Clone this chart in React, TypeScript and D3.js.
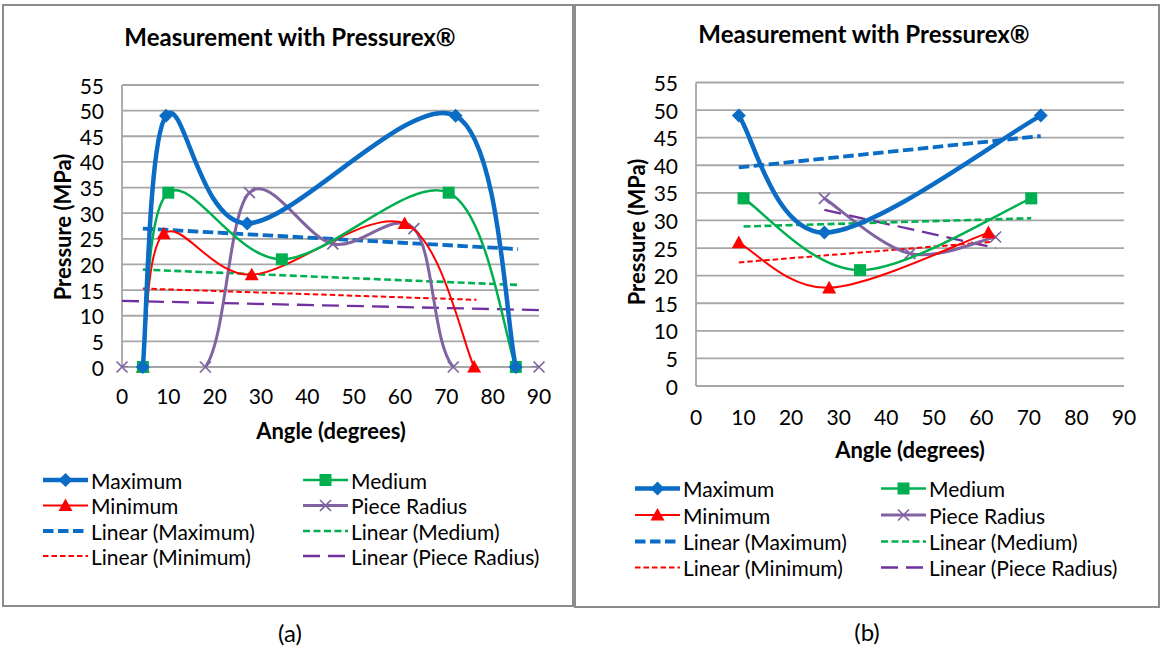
import React from "react";
import * as d3 from "d3";

// ---------- data ----------
const seriesNames = ["Maximum", "Medium", "Minimum", "Piece Radius"];
const trendNames = ["Linear (Maximum)", "Linear (Medium)", "Linear (Minimum)", "Linear (Piece Radius)"];
const yTicks = [0, 5, 10, 15, 20, 25, 30, 35, 40, 45, 50, 55];
const xTicks = [0, 10, 20, 30, 40, 50, 60, 70, 80, 90];

// chart (a)
const aMaxX = [4.5, 9.5, 27, 72, 85];
const aMaxY = [0, 49, 28, 49, 0];
const aMedX = [4.5, 10, 34.5, 70.5, 85];
const aMedY = [0, 34, 21, 34, 0];
const aMinX = [4.5, 9, 28, 61, 76];
const aMinY = [0, 26, 18, 28, 0];
const aRadX = [0, 18, 27.5, 45.5, 63, 71.5, 90];
const aRadY = [0, 0, 34, 24, 27, 0, 0];
const aTrendMaxX = [4.5, 85.5];
const aTrendMaxY = [27, 23];
const aTrendMedX = [4.5, 85.5];
const aTrendMedY = [19, 16];
const aTrendMinX = [4.5, 76.5];
const aTrendMinY = [15.3, 13.1];
const aTrendRadX = [0, 90];
const aTrendRadY = [12.9, 11.1];

// chart (b)
const bMaxX = [9, 27, 72.5];
const bMaxY = [49, 27.8, 49];
const bMedX = [10, 34.5, 70.5];
const bMedY = [34, 21, 34];
const bMinX = [9, 28, 61.5];
const bMinY = [26, 17.8, 27.8];
const bRadX = [27, 45, 63];
const bRadY = [34, 24, 27];
const bTrendMaxX = [9, 72.5];
const bTrendMaxY = [39.6, 45.3];
const bTrendMedX = [10, 70.5];
const bTrendMedY = [28.9, 30.4];
const bTrendMinX = [9, 62];
const bTrendMinY = [22.4, 26.1];
const bTrendRadX = [27, 63];
const bTrendRadY = [31.9, 25];

// ---------- styles ----------
const FONT = "Lato, 'Open Sans', sans-serif";
const BLUE = "#0A6CC4";
const GREEN = "#00B050";
const RED = "#FF0000";
const PURPLE = "#8064A2";
const PURPLE_DARK = "#7030A0";
const GRID = "#A6A6A6";

type Pt = [number, number];
const zip = (xs: number[], ys: number[]): Pt[] => xs.map((x, i) => [x, ys[i]]);

const seriesStyle = [
  { color: BLUE, width: 4.5, marker: "diamond" },
  { color: GREEN, width: 2.5, marker: "square" },
  { color: RED, width: 2, marker: "triangle" },
  { color: PURPLE, width: 3, marker: "x" },
];
const trendStyle = [
  { color: BLUE, width: 3.8, dash: "10.5,4.5" },
  { color: GREEN, width: 2.6, dash: "7,3.5" },
  { color: RED, width: 2, dash: "5.5,3" },
  { color: PURPLE_DARK, width: 2.3, dash: "17,8" },
];

// Excel-style smoothed line (Bezier with limited handles), computed in pixel space
function smoothPath(px: Pt[]): string {
  const p = d3.path();
  if (!px.length) return "";
  p.moveTo(px[0][0], px[0][1]);
  const dist = (a: Pt, b: Pt) => Math.hypot(a[0] - b[0], a[1] - b[1]);
  for (let i = 0; i < px.length - 1; i++) {
    const P1 = px[i];
    const P2 = px[i + 1];
    const P0 = i === 0 ? P1 : px[i - 1];
    const P3 = i === px.length - 2 ? P2 : px[i + 2];
    const d12 = dist(P1, P2);
    const d02 = dist(P0, P2);
    const d13 = dist(P1, P3);
    const f = 1 / 6;
    const f0 = d02 / 6 < d12 / 2 ? f : d12 / d02 / 2;
    const f1 = d13 / 6 < d12 / 2 ? f : d12 / d13 / 2;
    const c1: Pt = [P1[0] + (P2[0] - P0[0]) * f0, P1[1] + (P2[1] - P0[1]) * f0];
    const c2: Pt = [P2[0] - (P3[0] - P1[0]) * f1, P2[1] - (P3[1] - P1[1]) * f1];
    p.bezierCurveTo(c1[0], c1[1], c2[0], c2[1], P2[0], P2[1]);
  }
  return p.toString();
}

function Marker({ kind, x, y, color }: { kind: string; x: number; y: number; color: string }) {
  if (kind === "diamond") {
    const r = 7;
    return <path d={`M${x},${y - r}L${x + r},${y}L${x},${y + r}L${x - r},${y}Z`} fill={color} />;
  }
  if (kind === "square") {
    const s = 6;
    return <rect x={x - s} y={y - s} width={2 * s} height={2 * s} fill={color} />;
  }
  if (kind === "triangle") {
    const s = 7;
    return <path d={`M${x},${y - s}L${x + s},${y + s * 0.8}L${x - s},${y + s * 0.8}Z`} fill={color} />;
  }
  const s = 5.5;
  return (
    <path d={`M${x - s},${y - s}L${x + s},${y + s}M${x - s},${y + s}L${x + s},${y - s}`} stroke={color} strokeWidth={1.7} />
  );
}

interface PanelProps {
  id: string;
  frame: [number, number, number, number];
  xRange: [number, number];
  yRange: [number, number];
  titleX: number;
  titleY: number;
  yLabelX: number;
  yLabelY: number;
  xLabelY: number;
  xLabelX: number;
  tickLabelY: number;
  legendRows: number[];
  legendCols: [number, number];
  caption: string;
  captionX: number;
  captionY: number;
  series: Pt[][];
  trends: Pt[][];
}

function Panel(p: PanelProps) {
  const x = d3.scaleLinear().domain([0, 90]).range(p.xRange);
  const y = d3.scaleLinear().domain([0, 55]).range(p.yRange);
  const straight = d3
    .line<Pt>()
    .x((d) => x(d[0]))
    .y((d) => y(d[1]));
  const [fx, fy, fw, fh] = p.frame;
  const order = [3, 2, 1, 0];
  return (
    <g>
      <defs>
        <clipPath id={p.id}>
          <rect x={p.xRange[0]} y={p.yRange[1] - 2} width={p.xRange[1] - p.xRange[0]} height={p.yRange[0] - p.yRange[1] + 2} />
        </clipPath>
      </defs>
      <rect x={fx} y={fy} width={fw} height={fh} fill="#fff" stroke="#8C8C8C" strokeWidth={2} />
      <text x={p.titleX} y={p.titleY} textAnchor="middle" dominantBaseline="central" fontFamily={FONT} fontWeight="bold" fontSize={24}>
        Measurement with Pressurex®
      </text>
      {yTicks.map((t) => (
        <g key={t}>
          <line x1={p.xRange[0]} x2={p.xRange[1]} y1={y(t)} y2={y(t)} stroke={GRID} strokeWidth={1.8} />
          <text x={p.xRange[0] - 18} y={y(t)} textAnchor="end" dominantBaseline="central" fontFamily={FONT} fontSize={21}>
            {t}
          </text>
        </g>
      ))}
      <line x1={p.xRange[0]} x2={p.xRange[0]} y1={y(55)} y2={y(0)} stroke={GRID} strokeWidth={1.8} />
      {xTicks.map((t) => (
        <text key={t} x={x(t)} y={p.tickLabelY} textAnchor="middle" dominantBaseline="central" fontFamily={FONT} fontSize={21}>
          {t}
        </text>
      ))}
      <text x={p.xLabelX} y={p.xLabelY} textAnchor="middle" dominantBaseline="central" fontFamily={FONT} fontWeight="bold" fontSize={22}>
        Angle (degrees)
      </text>
      <text
        transform={`translate(${p.yLabelX},${p.yLabelY}) rotate(-90)`}
        textAnchor="middle"
        dominantBaseline="central"
        fontFamily={FONT}
        fontWeight="bold"
        fontSize={22}
      >
        Pressure (MPa)
      </text>
      {/* trend lines */}
      {order.map((i) => (
        <path key={"t" + i} d={straight(p.trends[i]) || ""} fill="none" stroke={trendStyle[i].color} strokeWidth={trendStyle[i].width} strokeDasharray={trendStyle[i].dash} />
      ))}
      {/* series */}
      {order.map((i) => (
        <g key={"s" + i}>
          <path
            d={smoothPath(p.series[i].map((d) => [x(d[0]), y(d[1])] as Pt))}
            clipPath={`url(#${p.id})`}
            fill="none"
            stroke={seriesStyle[i].color}
            strokeWidth={seriesStyle[i].width}
            strokeLinejoin="round"
          />
          {p.series[i].map((d, j) => (
            <Marker key={j} kind={seriesStyle[i].marker} x={x(d[0])} y={y(d[1])} color={seriesStyle[i].color} />
          ))}
        </g>
      ))}
      {/* legend */}
      {[0, 1, 2, 3, 4, 5, 6, 7].map((k) => {
        const col = k % 2;
        const row = Math.floor(k / 2);
        const lx = p.legendCols[col];
        const ly = p.legendRows[row];
        const isTrend = k >= 4;
        const idx = isTrend ? k - 4 : k;
        const label = isTrend ? trendNames[idx] : seriesNames[idx];
        const st = isTrend ? trendStyle[idx] : seriesStyle[idx];
        return (
          <g key={"l" + k}>
            <line x1={lx} x2={lx + 45} y1={ly} y2={ly} stroke={st.color} strokeWidth={st.width} strokeDasharray={isTrend ? (st as any).dash : undefined} />
            {!isTrend && <Marker kind={seriesStyle[idx].marker} x={lx + 22.5} y={ly} color={st.color} />}
            <text x={lx + 48} y={ly} dominantBaseline="central" fontFamily={FONT} fontSize={21}>
              {label}
            </text>
          </g>
        );
      })}
      <text x={p.captionX} y={p.captionY} textAnchor="middle" dominantBaseline="central" fontFamily={FONT} fontSize={24}>
        {p.caption}
      </text>
    </g>
  );
}

export default function App() {
  const aSeries = [zip(aMaxX, aMaxY), zip(aMedX, aMedY), zip(aMinX, aMinY), zip(aRadX, aRadY)];
  const aTrends = [zip(aTrendMaxX, aTrendMaxY), zip(aTrendMedX, aTrendMedY), zip(aTrendMinX, aTrendMinY), zip(aTrendRadX, aTrendRadY)];
  const bSeries = [zip(bMaxX, bMaxY), zip(bMedX, bMedY), zip(bMinX, bMinY), zip(bRadX, bRadY)];
  const bTrends = [zip(bTrendMaxX, bTrendMaxY), zip(bTrendMedX, bTrendMedY), zip(bTrendMinX, bTrendMinY), zip(bTrendRadX, bTrendRadY)];
  return (
    <svg width={1164} height={647} style={{ position: "absolute", left: 0, top: 0, background: "#fff" }}>
      <rect width={1164} height={647} fill="#fff" />
      <Panel
        id="clipA"
        frame={[3, 5, 570, 601]}
        xRange={[122, 539]}
        yRange={[367, 85]}
        titleX={290}
        titleY={36}
        yLabelX={62}
        yLabelY={227}
        xLabelX={331}
        xLabelY={430}
        tickLabelY={395}
        legendRows={[480, 505.5, 531, 556]}
        legendCols={[43, 303]}
        caption="(a)"
        captionX={290}
        captionY={632}
        series={aSeries}
        trends={aTrends}
      />
      <Panel
        id="clipB"
        frame={[575, 5, 584, 602]}
        xRange={[696, 1124]}
        yRange={[386, 82.5]}
        titleX={864}
        titleY={33}
        yLabelX={636}
        yLabelY={232}
        xLabelX={910}
        xLabelY={449}
        tickLabelY={416}
        legendRows={[488.5, 515, 541.5, 567.5]}
        legendCols={[635, 881]}
        caption="(b)"
        captionX={867}
        captionY={631}
        series={bSeries}
        trends={bTrends}
      />
    </svg>
  );
}
